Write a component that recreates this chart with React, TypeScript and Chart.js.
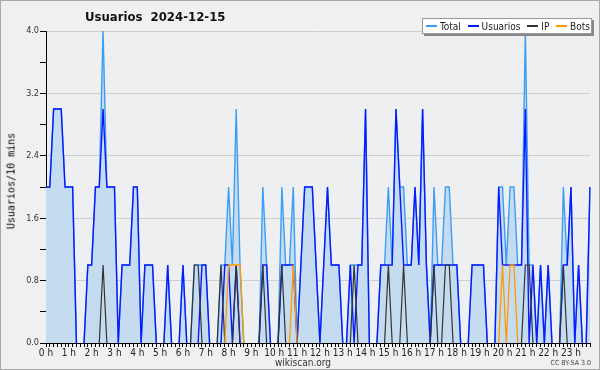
import React, { useEffect, useRef } from 'react';
import { Chart, registerables } from 'chart.js';

Chart.register(...registerables);

const hourLabels = ['0 h', '1 h', '2 h', '3 h', '4 h', '5 h', '6 h', '7 h', '8 h', '9 h', '10 h', '11 h',
  '12 h', '13 h', '14 h', '15 h', '16 h', '17 h', '18 h', '19 h', '20 h', '21 h', '22 h', '23 h'];

const yTicks = [0, 0.8, 1.6, 2.4, 3.2, 4.0];

// 10-minute samples, 144 per day
const total = [
  2, 2, 3, 3, 3, 2, 2, 2, 0, 0, 0, 1,
  1, 2, 2, 4, 2, 2, 2, 0, 1, 1, 1, 2,
  2, 0, 1, 1, 1, 0, 0, 0, 1, 0, 0, 0,
  1, 0, 0, 1, 1, 1, 1, 0, 0, 0, 1, 1,
  2, 1, 3, 1, 0, 0, 0, 0, 0, 2, 1, 0,
  0, 0, 2, 1, 1, 2, 0, 1, 2, 2, 2, 1,
  0, 1, 2, 1, 1, 1, 0, 0, 1, 1, 1, 1,
  3, 0, 0, 0, 1, 1, 2, 1, 3, 2, 2, 1,
  1, 2, 1, 3, 1, 0, 2, 1, 1, 2, 2, 1,
  1, 0, 0, 0, 1, 1, 1, 1, 0, 0, 0, 2,
  2, 1, 2, 2, 1, 1, 4, 1, 1, 0, 1, 0,
  1, 0, 0, 0, 2, 1, 2, 0, 1, 0, 0, 2,
];

const usuarios = [
  2, 2, 3, 3, 3, 2, 2, 2, 0, 0, 0, 1,
  1, 2, 2, 3, 2, 2, 2, 0, 1, 1, 1, 2,
  2, 0, 1, 1, 1, 0, 0, 0, 1, 0, 0, 0,
  1, 0, 0, 0, 0, 1, 1, 0, 0, 0, 0, 1,
  1, 0, 1, 0, 0, 0, 0, 0, 0, 1, 1, 0,
  0, 0, 1, 1, 1, 1, 0, 1, 2, 2, 2, 1,
  0, 1, 2, 1, 1, 1, 0, 0, 1, 0, 1, 1,
  3, 0, 0, 0, 1, 1, 1, 1, 3, 2, 1, 1,
  1, 2, 1, 3, 1, 0, 1, 1, 1, 1, 1, 1,
  1, 0, 0, 0, 1, 1, 1, 1, 0, 0, 0, 2,
  1, 1, 1, 1, 1, 1, 3, 0, 1, 0, 1, 0,
  1, 0, 0, 0, 1, 1, 2, 0, 1, 0, 0, 2,
];

const ip = [
  0, 0, 0, 0, 0, 0, 0, 0, 0, 0, 0, 0,
  0, 0, 0, 1, 0, 0, 0, 0, 0, 0, 0, 0,
  0, 0, 0, 0, 0, 0, 0, 0, 0, 0, 0, 0,
  0, 0, 0, 1, 1, 0, 0, 0, 0, 0, 1, 0,
  0, 0, 1, 0, 0, 0, 0, 0, 0, 1, 0, 0,
  0, 0, 1, 0, 0, 0, 0, 0, 0, 0, 0, 0,
  0, 0, 0, 0, 0, 0, 0, 0, 0, 1, 0, 0,
  0, 0, 0, 0, 0, 0, 1, 0, 0, 0, 1, 0,
  0, 0, 0, 0, 0, 0, 1, 0, 0, 1, 1, 0,
  0, 0, 0, 0, 0, 0, 0, 0, 0, 0, 0, 0,
  0, 0, 0, 0, 0, 0, 1, 1, 0, 0, 0, 0,
  0, 0, 0, 0, 1, 0, 0, 0, 0, 0, 0, 0,
];

const bots = [
  0, 0, 0, 0, 0, 0, 0, 0, 0, 0, 0, 0,
  0, 0, 0, 0, 0, 0, 0, 0, 0, 0, 0, 0,
  0, 0, 0, 0, 0, 0, 0, 0, 0, 0, 0, 0,
  0, 0, 0, 0, 0, 0, 0, 0, 0, 0, 0, 0,
  1, 1, 1, 1, 0, 0, 0, 0, 0, 0, 0, 0,
  0, 0, 0, 0, 0, 1, 0, 0, 0, 0, 0, 0,
  0, 0, 0, 0, 0, 0, 0, 0, 0, 0, 0, 0,
  0, 0, 0, 0, 0, 0, 0, 0, 0, 0, 0, 0,
  0, 0, 0, 0, 0, 0, 0, 0, 0, 0, 0, 0,
  0, 0, 0, 0, 0, 0, 0, 0, 0, 0, 0, 0,
  1, 0, 1, 1, 0, 0, 0, 0, 0, 0, 0, 0,
  0, 0, 0, 0, 0, 0, 0, 0, 0, 0, 0, 0,
];

const COLORS = {
  total: '#3c9ef2',
  totalFill: '#c5dcf0',
  usuarios: '#0a1aff',
  ip: '#333333',
  bots: '#ff9a00',
};

const FONT = "'DejaVu Sans Condensed', 'Liberation Sans Narrow', 'DejaVu Sans', sans-serif";

const plotBg = {
  id: 'plotBg',
  beforeDraw(chart: any) {
    const { ctx, chartArea } = chart;
    if (!chartArea) return;
    ctx.save();
    ctx.fillStyle = '#eeeff1';
    ctx.fillRect(chartArea.left, chartArea.top, chartArea.right - chartArea.left, chartArea.bottom - chartArea.top);
    ctx.restore();
  },
};

// hide the part of a line that runs flat along the zero baseline
const hideZeroRun = {
  borderColor: (ctx: any) => (ctx.p0.parsed.y === 0 && ctx.p1.parsed.y === 0 ? 'rgba(0,0,0,0)' : undefined),
};

export default function App() {
  const ref = useRef<HTMLCanvasElement | null>(null);

  useEffect(() => {
    document.body.style.margin = '0';
    const canvas = ref.current;
    if (!canvas) return;
    const labels = total.map((_, i) => (i % 6 === 0 ? hourLabels[i / 6] : ''));
    const chart = new Chart(canvas, {
      type: 'line',
      data: {
        labels,
        datasets: [
          {
            label: 'Total', data: total, borderColor: COLORS.total, backgroundColor: COLORS.totalFill,
            fill: 'origin', borderWidth: 1.4, pointRadius: 0, tension: 0, order: 4, segment: hideZeroRun,
          },
          {
            label: 'Usuarios', data: usuarios, borderColor: COLORS.usuarios, backgroundColor: COLORS.usuarios,
            fill: false, borderWidth: 1.4, pointRadius: 0, tension: 0, order: 3, segment: hideZeroRun,
          },
          {
            label: 'IP', data: ip, borderColor: COLORS.ip, backgroundColor: COLORS.ip,
            fill: false, borderWidth: 1.2, pointRadius: 0, tension: 0, order: 2, segment: hideZeroRun,
          },
          {
            label: 'Bots', data: bots, borderColor: COLORS.bots, backgroundColor: COLORS.bots,
            fill: false, borderWidth: 1.3, pointRadius: 0, tension: 0, order: 1, segment: hideZeroRun,
          },
        ],
      },
      options: {
        responsive: false,
        animation: false,
        devicePixelRatio: 1,
        layout: { padding: { top: 31, right: 10, left: 0, bottom: 0 } },
        plugins: {
          legend: { display: false },
          title: { display: false },
          tooltip: { enabled: false },
        },
        scales: {
          x: {
            type: 'category',
            offset: false,
            afterFit(scale: any) { scale.height = 27; },
            border: { display: true, color: '#000', width: 1 },
            grid: { display: true, drawOnChartArea: false, drawTicks: true, tickLength: 4, tickColor: '#000' },
            ticks: {
              autoSkip: false, maxRotation: 0, minRotation: 0, padding: 0,
              color: '#222', font: { family: FONT, size: 10 },
            },
          },
          y: {
            type: 'linear',
            min: 0,
            max: 4,
            afterFit(scale: any) { scale.width = 46; },
            border: { display: true, color: '#000', width: 1 },
            grid: {
              color: (ctx: any) => (ctx.index % 2 === 0 ? '#cfcfcf' : 'rgba(0,0,0,0)'),
              tickColor: '#000',
              tickLength: 6,
              lineWidth: 1,
            },
            ticks: {
              stepSize: 0.4,
              padding: 1,
              color: '#333',
              font: { family: FONT, size: 9 },
              callback: (v: any) => {
                const n = Number(v);
                const hit = yTicks.find((t) => Math.abs(t - n) < 1e-6);
                return hit === undefined ? '' : hit.toFixed(1);
              },
            },
          },
        },
      },
      plugins: [plotBg],
    });
    return () => chart.destroy();
  }, []);

  const legendItems = [
    { label: 'Total', color: COLORS.total },
    { label: 'Usuarios', color: COLORS.usuarios },
    { label: 'IP', color: COLORS.ip },
    { label: 'Bots', color: COLORS.bots },
  ];

  return (
    <div style={{ position: 'fixed', left: 0, top: 0, width: 600, height: 370, background: '#f0f0f0', border: '1px solid #a8a8a8', boxSizing: 'border-box', overflow: 'hidden', fontFamily: FONT }}>
      <canvas ref={ref} width={600} height={370} style={{ position: 'absolute', left: -1, top: -1, width: 600, height: 370 }} />
      <div style={{ position: 'absolute', left: 84, top: 8, fontSize: 13, fontWeight: 'bold', color: '#111', whiteSpace: 'pre' }}>
        {'Usuarios  2024-12-15'}
      </div>
      <div style={{ position: 'absolute', left: 421, top: 17, width: 164, height: 14, background: '#fff', border: '1px solid #999', boxShadow: '2px 2px 0 #888', display: 'flex', alignItems: 'center', justifyContent: 'space-between', fontSize: 10, color: '#222', paddingLeft: 3, paddingRight: 1, boxSizing: 'content-box', whiteSpace: 'nowrap' }}>
        {legendItems.map((it) => (
          <span key={it.label} style={{ display: 'inline-flex', alignItems: 'center' }}>
            <span style={{ display: 'inline-block', width: 11, height: 1.5, background: it.color, marginRight: 3 }} />
            {it.label}
          </span>
        ))}
      </div>
      <div style={{ position: 'absolute', left: 10, top: 180, transform: 'translate(-50%, -50%) rotate(-90deg)', fontFamily: "'DejaVu Sans Mono', monospace", fontWeight: 'normal', fontSize: 10, color: '#000', whiteSpace: 'nowrap' }}>
        Usuarios/10 mins
      </div>
      <div style={{ position: 'absolute', left: 302, top: 361, transform: 'translate(-50%, -50%)', fontSize: 10, color: '#333', whiteSpace: 'nowrap' }}>
        wikiscan.org
      </div>
      <div style={{ position: 'absolute', right: 8, top: 362, transform: 'translateY(-50%)', fontSize: 7, color: '#444', whiteSpace: 'nowrap' }}>
        CC BY-SA 3.0
      </div>
    </div>
  );
}
